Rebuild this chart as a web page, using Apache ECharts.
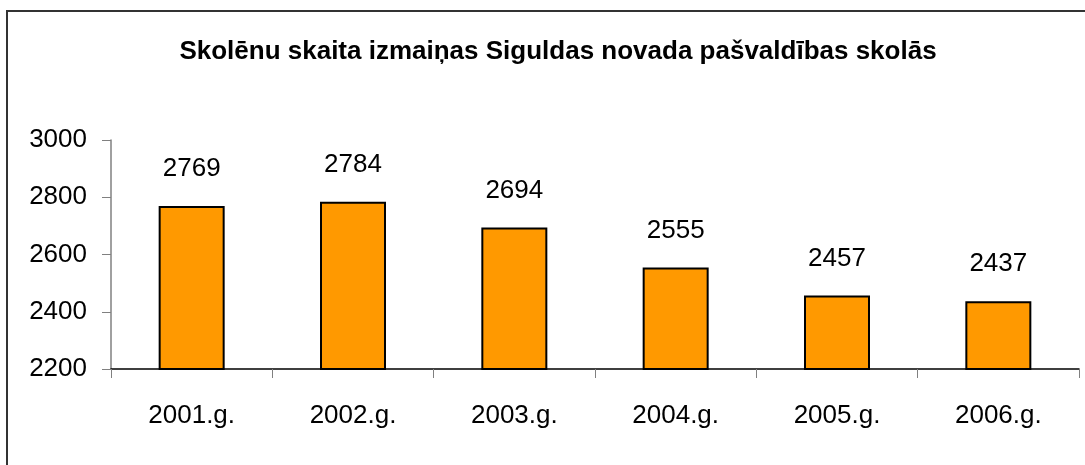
<!DOCTYPE html>
<html>
<head>
<meta charset="utf-8">
<script src="https://cdn.jsdelivr.net/npm/echarts@6/dist/echarts.min.js"></script>
<style>
  html, body { margin: 0; padding: 0; background: #fff; }
  #main { width: 1085px; height: 465px; }
</style>
</head>
<body>
<div id="main"></div>
<script>
// dati no attēla
const years = ["2001.g.", "2002.g.", "2003.g.", "2004.g.", "2005.g.", "2006.g."];
const pupils = [2769, 2784, 2694, 2555, 2457, 2437];
const titleText = "Skolēnu skaita izmaiņas Siguldas novada pašvaldības skolās";

const fontNarrow = '"Liberation Sans Narrow", "Arial Narrow", "Liberation Sans", Arial, sans-serif';

const myChart = echarts.init(document.getElementById("main"));

const options = {
  animation: false,
  backgroundColor: "#fff",
  title: {
    text: titleText,
    top: 34,
    left: 553,
    textAlign: "center",
    textStyle: {
      fontFamily: '"Liberation Sans", Arial, sans-serif',
      fontWeight: "bold",
      fontSize: 26,
      color: "#000"
    }
  },
  graphic: [
    {
      // rāmis ap diagrammu
      type: "rect",
      shape: { x: 7, y: 11, width: 2000, height: 1000 },
      style: { fill: "none", stroke: "#333", lineWidth: 2 },
      silent: true
    }
  ],
  grid: { left: 111, right: 6, top: 140, bottom: 96, containLabel: false },
  xAxis: {
    type: "category",
    data: years,
    boundaryGap: true,
    axisLine: { lineStyle: { color: "#000", width: 1.5 } },
    axisTick: { show: true, length: 9, alignWithLabel: false, lineStyle: { color: "#808080" } },
    axisLabel: {
      margin: 34,
      color: "#000",
      fontFamily: fontNarrow,
      fontSize: 26
    }
  },
  yAxis: {
    type: "value",
    min: 2200,
    max: 3000,
    interval: 200,
    splitLine: { show: false },
    axisLine: { show: true, lineStyle: { color: "#808080", width: 1.5 } },
    axisTick: { show: true, length: 9, lineStyle: { color: "#808080" } },
    axisLabel: {
      margin: 24,
      color: "#000",
      fontFamily: fontNarrow,
      fontSize: 26,
      formatter: (v) => String(v)
    }
  },
  series: [
    {
      type: "bar",
      data: pupils,
      barWidth: 66,
      itemStyle: { color: "#FF9900", borderColor: "#000", borderWidth: 2 },
      label: {
        show: true,
        position: "top",
        distance: 24,
        color: "#000",
        fontFamily: fontNarrow,
        fontSize: 26
      }
    }
  ]
};

myChart.setOption(options);
</script>
</body>
</html>
